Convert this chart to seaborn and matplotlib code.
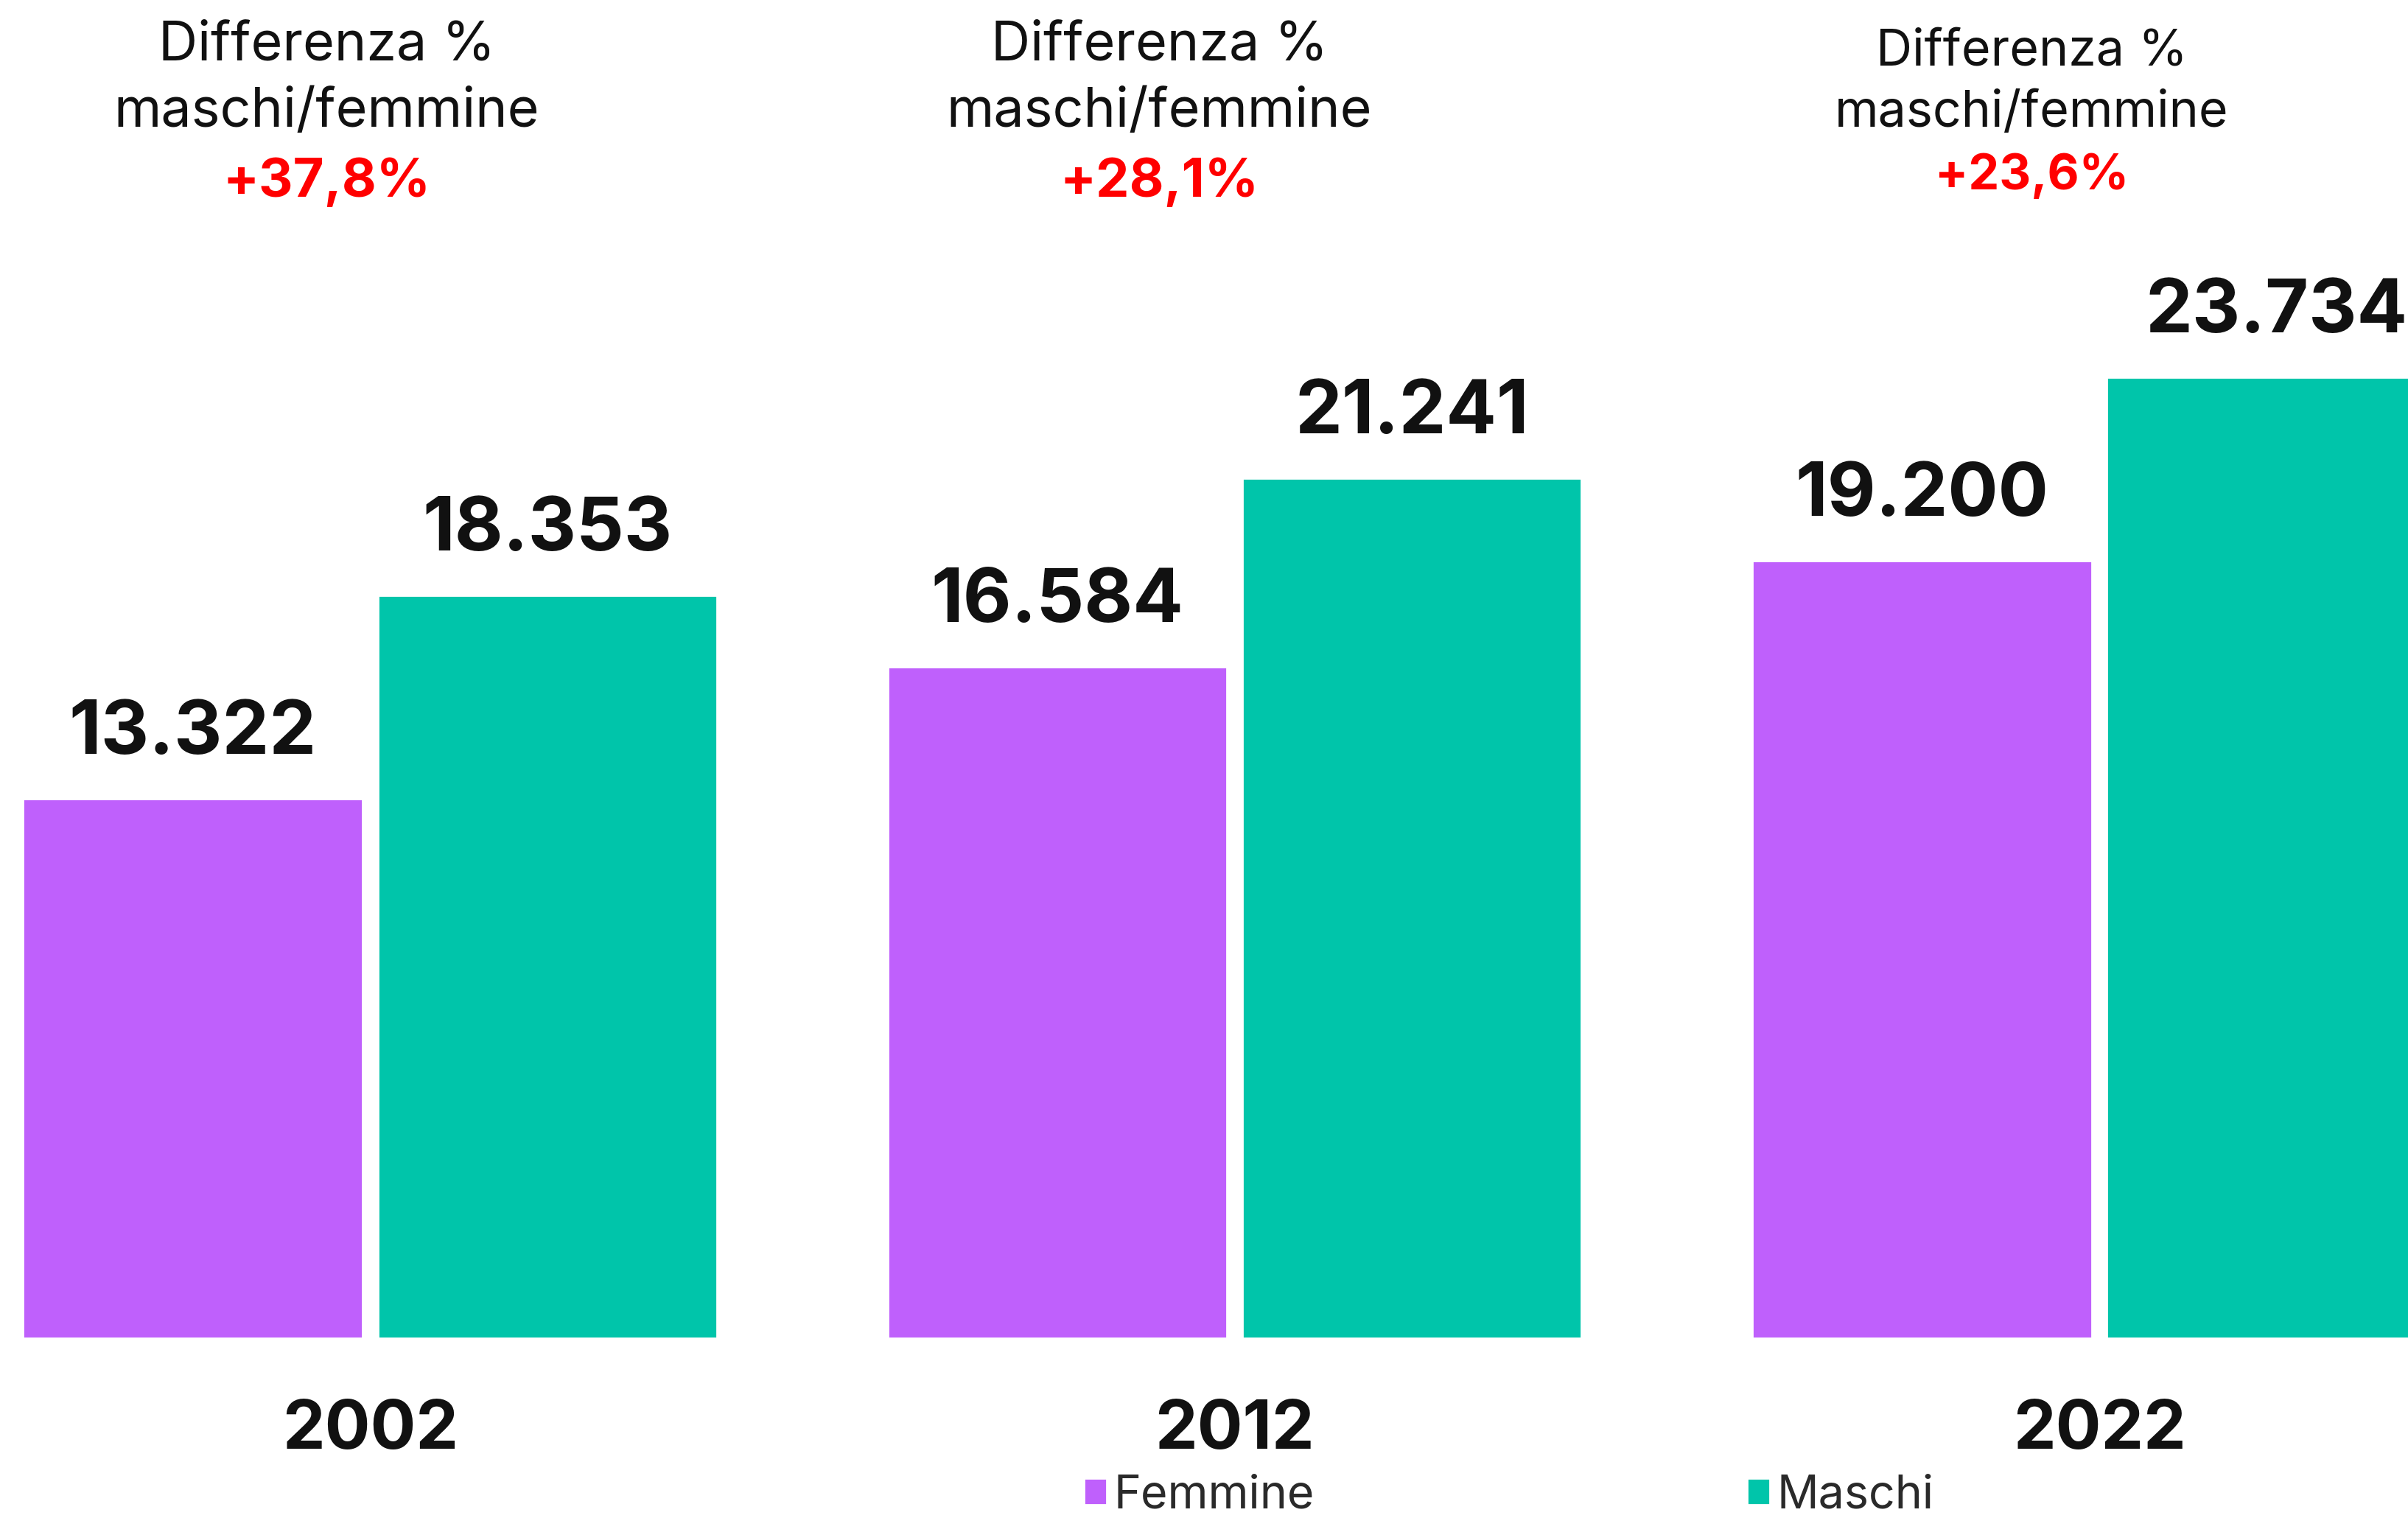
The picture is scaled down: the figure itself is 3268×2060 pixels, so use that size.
import pandas as pd
import numpy as np
import matplotlib.pyplot as plt
import seaborn as sns
from matplotlib.patches import Patch
from matplotlib.transforms import blended_transform_factory

years = ["2002", "2012", "2022"]
femmine = [13322, 16584, 19200]
maschi = [18353, 21241, 23734]
diff_pct = ["+37,8%", "+28,1%", "+23,6%"]
series = ["Femmine", "Maschi"]
colors = {"Femmine": "#BF60FC", "Maschi": "#00C5AA"}

df = pd.DataFrame({
    "Anno": years * 2,
    "Valore": femmine + maschi,
    "Sesso": ["Femmine"] * 3 + ["Maschi"] * 3,
})

sns.set_style("white")
plt.rcParams['font.family'] = ['Inter', 'DejaVu Sans']

fig = plt.figure(figsize=(16.34, 10.3), dpi=200)
ax = fig.add_axes([0, 0.1184, 1, 0.8816])

sns.barplot(data=df, x="Anno", y="Valore", hue="Sesso", order=years,
            hue_order=series, palette=colors, saturation=1,
            width=0.82, gap=0.043, legend=False, ax=ax)

ax.set_xlim(-0.428, 2.357)
ax.set_ylim(0, 33058)
sns.despine(ax=ax, left=True, bottom=True)
ax.set_yticks([])
ax.set_xlabel("")
ax.set_ylabel("")
ax.tick_params(axis="x", length=0, pad=30)
for lab in ax.get_xticklabels():
    lab.set_fontsize(33)
    lab.set_fontweight("bold")
    lab.set_color("#111111")

# value labels above each bar
for cont in ax.containers:
    for bar in cont:
        h = bar.get_height()
        ax.annotate(f"{int(h):,}".replace(",", "."),
                    (bar.get_x() + bar.get_width() / 2, h),
                    xytext=(0, 31.5), textcoords="offset points",
                    ha="center", va="center", fontsize=36.5,
                    fontweight="bold", color="#111111")

# difference notes at the top
trans = blended_transform_factory(ax.transData, fig.transFigure)
note_x = [-0.05, 0.913, 1.922]
note_y = [(0.9697, 0.9261, 0.8796), (0.9697, 0.9261, 0.8796), (0.9656, 0.9251, 0.8836)]
note_size = [26.5, 26.5, 24.5]
for i, txt in enumerate(diff_pct):
    y1, y2, y3 = note_y[i]
    ax.text(note_x[i], y1, "Differenza %", transform=trans, ha="center", va="center",
            fontsize=note_size[i], color="#111111")
    ax.text(note_x[i], y2, "maschi/femmine", transform=trans, ha="center", va="center",
            fontsize=note_size[i], color="#111111")
    ax.text(note_x[i], y3, txt, transform=trans, ha="center", va="center",
            fontsize=note_size[i] - 0.5, fontweight="bold", color="#FF0000")

handles = [Patch(facecolor=colors[s], label=s) for s in series]
fig.legend(handles=handles, loc="center", bbox_to_anchor=(0.6266, 0.0145), ncol=2,
           frameon=False, fontsize=22.6, handlelength=0.5, handleheight=0.5,
           handletextpad=0.15, columnspacing=9.34, labelcolor="#2a2a2a",
           borderpad=0.2)

fig.savefig("out.png", dpi=200)
